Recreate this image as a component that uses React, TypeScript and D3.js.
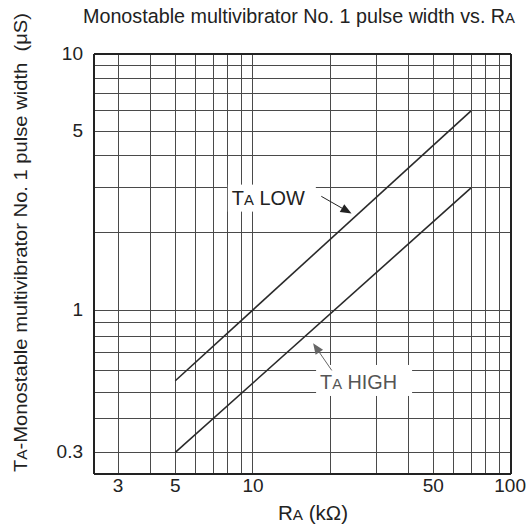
import React from 'react';
import * as d3 from 'd3';

// R_A (kOhm) on the x axis, pulse width (uS) on the y axis, both log
const rA = [5, 70];
const taLow = [0.55, 6];
const taHigh = [0.3, 3];

const xGrid = [3, 4, 5, 6, 7, 8, 9, 10, 20, 30, 40, 50, 60, 70, 80, 90, 100];
const yGrid = [0.3, 0.4, 0.5, 0.6, 0.7, 0.8, 0.9, 1, 2, 3, 4, 5, 6, 7, 8, 9, 10];
const xLabels = [3, 5, 10, 50, 100];
const yLabels = [0.3, 1, 5, 10];

const W = 528;
const H = 526;
const FONT = '"Liberation Sans", Arial, Helvetica, sans-serif';
const GRID = '#4a4a4a';

// plotting frame, left decade of the printed x axis runs out at ~2.4
const x = d3.scaleLog().domain([2.42, 100]).range([94, 511]);
// the lower y decade is drawn a bit taller than the upper one
const y = d3.scaleLog().domain([0.25, 1, 10]).range([474, 310, 54]);

const line = d3
  .line<[number, number]>()
  .x((d) => x(d[0]))
  .y((d) => y(d[1]));

function Arrow({ from, to, color }: { from: [number, number]; to: [number, number]; color: string }) {
  const x1 = x(from[0]);
  const y1 = y(from[1]);
  const x2 = x(to[0]);
  const y2 = y(to[1]);
  const a = Math.atan2(y2 - y1, x2 - x1);
  const len = 11;
  const half = 4.5;
  const bx = x2 - len * Math.cos(a);
  const by = y2 - len * Math.sin(a);
  const p1 = [bx + half * Math.sin(a), by - half * Math.cos(a)];
  const p2 = [bx - half * Math.sin(a), by + half * Math.cos(a)];
  return (
    <g>
      <line x1={x1} y1={y1} x2={bx} y2={by} stroke={color} strokeWidth={1} />
      <path d={`M${x2},${y2}L${p1[0]},${p1[1]}L${p2[0]},${p2[1]}Z`} fill={color} />
    </g>
  );
}

function Label({ at, text, w, h, len, color }: { at: [number, number]; text: string; w: number; h: number; len: number; color: string }) {
  const tx = x(at[0]);
  const ty = y(at[1]);
  return (
    <g>
      <rect x={tx - 4} y={ty - h + 7} width={w} height={h} fill="#fff" />
      <text x={tx} y={ty} fontSize={19.5} fill={color} textLength={len} lengthAdjust="spacingAndGlyphs">
        T<tspan fontSize={14.5}>A</tspan> {text}
      </text>
    </g>
  );
}

export default function App() {
  const [x0, x1] = x.range();
  const y0 = y(10);
  const y1 = y.range()[0];
  const low = rA.map((r, i) => [r, taLow[i]] as [number, number]);
  const high = rA.map((r, i) => [r, taHigh[i]] as [number, number]);

  return (
    <svg
      width={W}
      height={H}
      style={{ position: 'absolute', left: 0, top: 0, background: '#fff' }}
      fontFamily={FONT}
    >
      {/* grid */}
      <g stroke={GRID} strokeWidth={1} shapeRendering="crispEdges">
        {xGrid.map((v) => (
          <line key={'x' + v} x1={x(v)} x2={x(v)} y1={y0} y2={y1} />
        ))}
        {yGrid.map((v) => (
          <line key={'y' + v} x1={x0} x2={x1} y1={y(v)} y2={y(v)} />
        ))}
      </g>
      <g stroke="#222" strokeWidth={1.5} shapeRendering="crispEdges">
        <line x1={x0} x2={x0} y1={y0} y2={y1} />
        <line x1={x0} x2={x1} y1={y1} y2={y1} />
        <line x1={x1} x2={x1} y1={y0} y2={y1} />
        <line x1={x0} x2={x1} y1={y0} y2={y0} />
      </g>

      {/* curves */}
      <path d={line(low) ?? ''} fill="none" stroke="#2a2a2a" strokeWidth={1.6} />
      <path d={line(high) ?? ''} fill="none" stroke="#2a2a2a" strokeWidth={1.6} />

      {/* annotations */}
      <Label at={[8.28, 2.58]} text="LOW" w={88} h={27} len={73} color="#222" />
      <Arrow from={[18.4, 2.78]} to={[24.1, 2.38]} color="#222" />
      <Label at={[18.2, 0.513]} text="HIGH" w={96} h={31} len={77} color="#555" />
      <Arrow from={[20.2, 0.6]} to={[17.1, 0.755]} color="#666" />

      {/* tick labels */}
      <g fontSize={19} fill="#222">
        {yLabels.map((v) => (
          <text key={'yl' + v} x={83} y={y(v) + 6} textAnchor="end">
            {String(v)}
          </text>
        ))}
        {xLabels.map((v) => {
          const last = v === xLabels[xLabels.length - 1];
          return (
            <text key={'xl' + v} x={last ? W - 2 : x(v)} y={492} textAnchor={last ? 'end' : 'middle'}>
              {String(v)}
            </text>
          );
        })}
      </g>

      {/* titles */}
      <text x={83} y={23} fontSize={19.3} fill="#222" textLength={432} lengthAdjust="spacingAndGlyphs">
        Monostable multivibrator No. 1 pulse width vs. R<tspan fontSize={14.5}>A</tspan>
      </text>
      <text x={278} y={520} fontSize={19.5} fill="#222" textLength={70} lengthAdjust="spacingAndGlyphs">
        R<tspan fontSize={14.5}>A</tspan> (kΩ)
      </text>
      <text
        transform="translate(27,472) rotate(-90)"
        fontSize={19}
        fill="#222"
        textLength={459}
        lengthAdjust="spacingAndGlyphs"
      >
        T<tspan fontSize={14.5}>A</tspan>-Monostable multivibrator No. 1 pulse width{'\u00a0\u00a0'}(μS)
      </text>
    </svg>
  );
}
